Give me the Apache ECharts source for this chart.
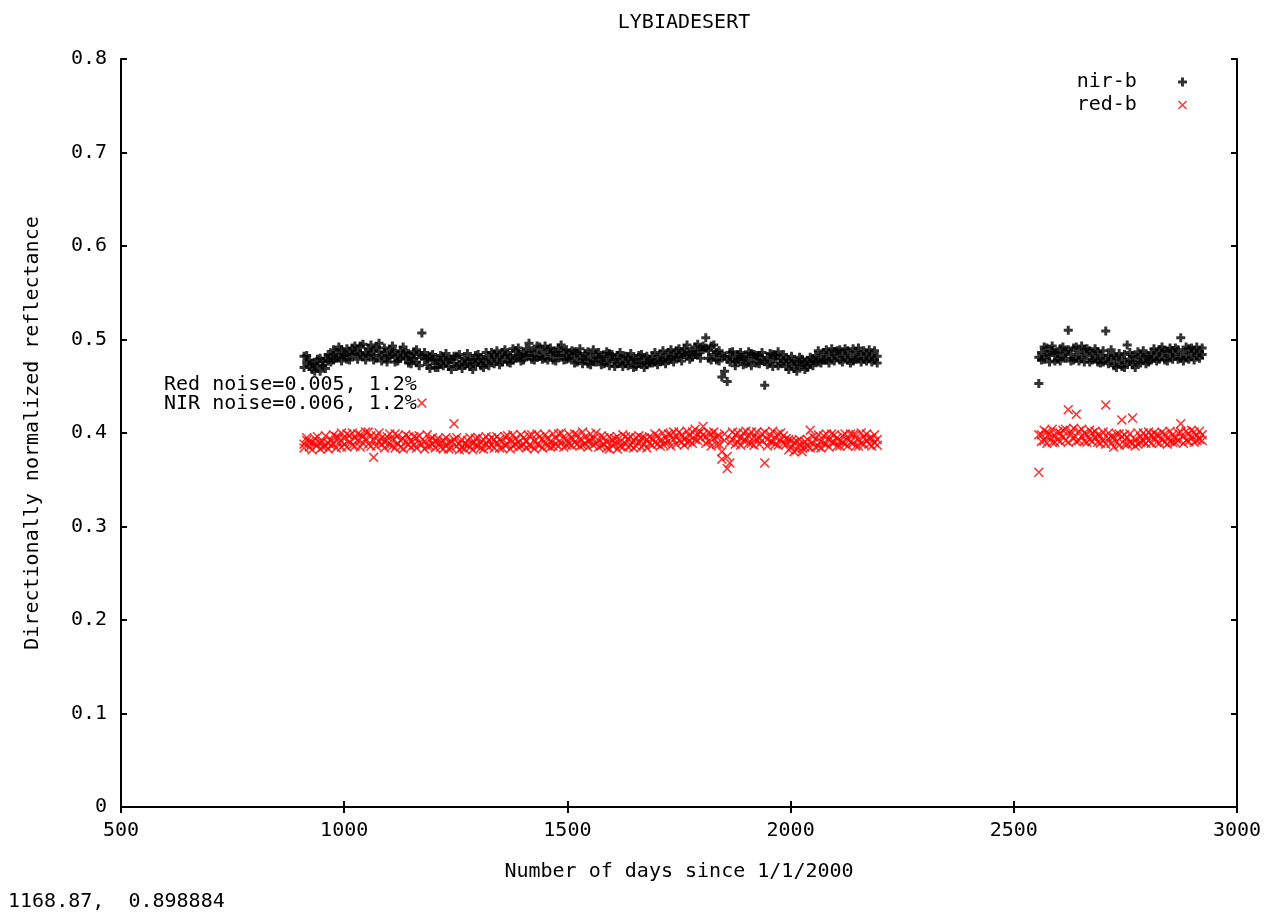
<!DOCTYPE html>
<html>
<head>
<meta charset="utf-8">
<script src="https://cdn.jsdelivr.net/npm/echarts@6/dist/echarts.min.js"></script>
<style>html,body{margin:0;padding:0;background:#fff}#c{width:1270px;height:915px}</style>
</head>
<body>
<div id="c"></div>
<script>
const xTicks = [500, 1000, 1500, 2000, 2500, 3000];
const yTicks = [0, 0.1, 0.2, 0.3, 0.4, 0.5, 0.6, 0.7, 0.8];

const days1 = [
910,916,922,928,934,940,946,952,958,964,
970,976,982,988,994,1000,1006,1012,1018,1024,
1030,1036,1042,1048,1054,1060,1066,1072,1078,1084,
1090,1096,1102,1108,1114,1120,1126,1132,1138,1144,
1150,1156,1162,1168,1174,1180,1186,1192,1198,1204,
1210,1216,1222,1228,1234,1240,1246,1252,1258,1264,
1270,1276,1282,1288,1294,1300,1306,1312,1318,1324,
1330,1336,1342,1348,1354,1360,1366,1372,1378,1384,
1390,1396,1402,1408,1414,1420,1426,1432,1438,1444,
1450,1456,1462,1468,1474,1480,1486,1492,1498,1504,
1510,1516,1522,1528,1534,1540,1546,1552,1558,1564,
1570,1576,1582,1588,1594,1600,1606,1612,1618,1624,
1630,1636,1642,1648,1654,1660,1666,1672,1678,1684,
1690,1696,1702,1708,1714,1720,1726,1732,1738,1744,
1750,1756,1762,1768,1774,1780,1786,1792,1798,1804,
1810,1816,1822,1828,1834,1840,1846,1852,1858,1864,
1870,1876,1882,1888,1894,1900,1906,1912,1918,1924,
1930,1936,1942,1948,1954,1960,1966,1972,1978,1984,
1990,1996,2002,2008,2014,2020,2026,2032,2038,2044,
2050,2056,2062,2068,2074,2080,2086,2092,2098,2104,
2110,2116,2122,2128,2134,2140,2146,2152,2158,2164,
2170,2176,2182,2188,2194
];
// first observation per day
const nir1 = [
0.482,0.476,0.471,0.468,0.474,0.479,0.466,0.472,0.480,0.477,
0.483,0.478,0.486,0.481,0.489,0.484,0.479,0.487,0.491,0.485,
0.488,0.493,0.482,0.486,0.490,0.484,0.478,0.492,0.487,0.483,
0.486,0.480,0.489,0.484,0.476,0.482,0.488,0.483,0.479,0.485,
0.481,0.487,0.476,0.484,0.507,0.479,0.473,0.482,0.477,0.470,
0.478,0.474,0.481,0.476,0.471,0.479,0.475,0.482,0.473,0.477,
0.480,0.474,0.471,0.478,0.483,0.476,0.472,0.479,0.475,0.481,
0.477,0.484,0.479,0.473,0.486,0.481,0.476,0.483,0.478,0.488,
0.482,0.477,0.485,0.490,0.483,0.479,0.487,0.481,0.492,0.486,
0.480,0.489,0.484,0.478,0.486,0.491,0.483,0.488,0.479,0.485,
0.481,0.487,0.476,0.483,0.479,0.485,0.474,0.481,0.477,0.484,
0.480,0.473,0.482,0.477,0.485,0.479,0.471,0.483,0.476,0.480,
0.474,0.481,0.477,0.470,0.479,0.483,0.475,0.480,0.473,0.478,
0.482,0.476,0.479,0.484,0.477,0.481,0.486,0.479,0.483,0.488,
0.481,0.486,0.490,0.483,0.479,0.487,0.492,0.484,0.489,0.489,
0.502,0.480,0.493,0.484,0.478,0.488,0.460,0.482,0.455,0.486,
0.481,0.476,0.484,0.479,0.473,0.482,0.477,0.485,0.480,0.475,
0.483,0.478,0.451,0.481,0.476,0.484,0.479,0.472,0.480,0.477,
0.471,0.478,0.474,0.469,0.476,0.481,0.473,0.468,0.477,0.474,
0.479,0.483,0.476,0.481,0.486,0.478,0.484,0.480,0.487,0.482,
0.478,0.485,0.481,0.488,0.483,0.477,0.486,0.480,0.484,0.479,
0.485,0.480,0.483,0.478,0.482
];
// second observation per day
const nir1b = [
0.470,0.483,0.478,0.474,0.466,0.472,0.480,0.476,0.469,0.484,
0.476,0.489,0.480,0.492,0.477,0.483,0.490,0.478,0.484,0.493,
0.479,0.484,0.495,0.478,0.483,0.494,0.488,0.480,0.496,0.477,
0.491,0.476,0.482,0.493,0.487,0.477,0.480,0.492,0.486,0.475,
0.474,0.480,0.489,0.472,0.483,0.486,0.480,0.469,0.484,0.478,
0.470,0.483,0.472,0.485,0.479,0.468,0.482,0.471,0.484,0.469,
0.473,0.485,0.479,0.468,0.474,0.484,0.480,0.470,0.486,0.472,
0.486,0.474,0.488,0.482,0.476,0.489,0.484,0.475,0.490,0.480,
0.491,0.484,0.478,0.483,0.496,0.488,0.478,0.493,0.482,0.479,
0.493,0.478,0.491,0.487,0.477,0.483,0.494,0.478,0.489,0.480,
0.488,0.475,0.485,0.490,0.474,0.479,0.487,0.473,0.489,0.476,
0.486,0.481,0.474,0.487,0.472,0.484,0.479,0.474,0.486,0.471,
0.482,0.472,0.485,0.479,0.471,0.475,0.484,0.470,0.482,0.475,
0.475,0.486,0.473,0.477,0.488,0.474,0.479,0.489,0.476,0.481,
0.490,0.477,0.484,0.494,0.487,0.481,0.484,0.495,0.480,0.493,
0.491,0.488,0.478,0.494,0.486,0.477,0.483,0.466,0.479,0.476,
0.487,0.472,0.479,0.486,0.481,0.474,0.487,0.472,0.484,0.483,
0.474,0.486,0.477,0.473,0.485,0.471,0.483,0.487,0.474,0.484,
0.480,0.468,0.482,0.477,0.466,0.472,0.479,0.476,0.470,0.481,
0.472,0.477,0.488,0.475,0.478,0.489,0.475,0.490,0.477,0.488,
0.489,0.476,0.490,0.478,0.475,0.490,0.479,0.491,0.476,0.488,
0.477,0.489,0.476,0.488,0.475
];
const red1 = [
0.388,0.392,0.385,0.390,0.394,0.387,0.383,0.391,0.386,0.389,
0.393,0.388,0.396,0.390,0.385,0.394,0.399,0.391,0.387,0.395,
0.392,0.398,0.389,0.394,0.401,0.386,0.374,0.397,0.391,0.395,
0.390,0.396,0.387,0.393,0.399,0.389,0.385,0.394,0.390,0.396,
0.392,0.387,0.395,0.389,0.432,0.391,0.386,0.393,0.388,0.384,
0.390,0.385,0.392,0.387,0.383,0.391,0.410,0.386,0.389,0.384,
0.388,0.392,0.385,0.389,0.394,0.386,0.390,0.383,0.388,0.392,
0.387,0.393,0.389,0.384,0.391,0.396,0.388,0.392,0.386,0.394,
0.390,0.386,0.395,0.391,0.387,0.398,0.392,0.388,0.396,0.393,
0.389,0.395,0.391,0.386,0.394,0.399,0.390,0.396,0.392,0.388,
0.395,0.390,0.398,0.393,0.387,0.396,0.391,0.399,0.394,0.389,
0.392,0.386,0.395,0.390,0.383,0.393,0.388,0.396,0.391,0.385,
0.389,0.394,0.387,0.392,0.386,0.390,0.395,0.388,0.393,0.389,
0.394,0.390,0.397,0.392,0.388,0.395,0.391,0.398,0.393,0.396,
0.392,0.398,0.394,0.390,0.397,0.401,0.393,0.399,0.395,0.407,
0.396,0.391,0.399,0.394,0.388,0.397,0.372,0.392,0.362,0.368,
0.393,0.398,0.390,0.395,0.400,0.392,0.397,0.389,0.396,0.401,
0.394,0.399,0.368,0.393,0.398,0.390,0.395,0.387,0.392,0.397,
0.388,0.393,0.385,0.390,0.382,0.388,0.384,0.391,0.386,0.403,
0.389,0.394,0.386,0.391,0.397,0.388,0.393,0.399,0.390,0.395,
0.391,0.397,0.388,0.394,0.390,0.398,0.386,0.393,0.389,0.396,
0.392,0.388,0.395,0.390,0.393
];
const red1b = [
0.384,0.395,0.391,0.382,0.388,0.396,0.390,0.385,0.397,0.383,
0.387,0.398,0.384,0.395,0.400,0.388,0.385,0.397,0.400,0.386,
0.399,0.385,0.396,0.401,0.388,0.397,0.392,0.386,0.400,0.388,
0.384,0.392,0.399,0.386,0.384,0.397,0.392,0.383,0.398,0.387,
0.385,0.396,0.384,0.397,0.388,0.383,0.398,0.386,0.395,0.391,
0.394,0.389,0.383,0.395,0.390,0.384,0.393,0.395,0.382,0.393,
0.383,0.387,0.395,0.382,0.387,0.395,0.384,0.393,0.396,0.385,
0.395,0.384,0.396,0.393,0.384,0.387,0.397,0.383,0.398,0.388,
0.385,0.398,0.388,0.384,0.397,0.386,0.383,0.399,0.387,0.384,
0.398,0.386,0.385,0.399,0.388,0.386,0.400,0.385,0.387,0.398,
0.387,0.399,0.388,0.386,0.401,0.389,0.385,0.392,0.387,0.400,
0.385,0.397,0.388,0.384,0.396,0.387,0.394,0.383,0.386,0.398,
0.396,0.385,0.396,0.384,0.395,0.397,0.385,0.395,0.384,0.396,
0.387,0.399,0.388,0.386,0.400,0.389,0.399,0.386,0.401,0.388,
0.401,0.390,0.387,0.402,0.391,0.389,0.404,0.392,0.401,0.398,
0.389,0.400,0.386,0.401,0.396,0.388,0.380,0.399,0.375,0.390,
0.401,0.388,0.400,0.387,0.392,0.402,0.389,0.401,0.387,0.393,
0.388,0.392,0.401,0.386,0.391,0.402,0.388,0.399,0.400,0.389,
0.394,0.382,0.392,0.380,0.391,0.393,0.380,0.385,0.393,0.384,
0.396,0.385,0.398,0.384,0.389,0.399,0.385,0.390,0.398,0.386,
0.386,0.390,0.399,0.386,0.399,0.389,0.398,0.386,0.400,0.388,
0.399,0.394,0.386,0.398,0.387
];
const days2 = [
2556,
2562,2568,2574,2580,2586,2592,2598,2604,2610,2616,
2622,2628,2634,2640,2646,2652,2658,2664,2670,2676,
2682,2688,2694,2700,2706,2712,2718,2724,2730,2736,
2742,2748,2754,2760,2766,2772,2778,2784,2790,2796,
2802,2808,2814,2820,2826,2832,2838,2844,2850,2856,
2862,2868,2874,2880,2886,2892,2898,2904,2910,2916,
2922
];
const nir2 = [
0.453,
0.486,0.479,0.491,0.483,0.488,0.477,0.485,0.490,0.482,0.487,
0.510,0.484,0.478,0.492,0.486,0.481,0.489,0.483,0.476,0.485,
0.480,0.487,0.482,0.476,0.509,0.483,0.478,0.472,0.481,0.475,
0.479,0.470,0.494,0.477,0.473,0.481,0.476,0.484,0.479,0.474,
0.482,0.486,0.480,0.485,0.489,0.483,0.478,0.487,0.482,0.488,
0.484,0.479,0.502,0.486,0.481,0.490,0.485,0.488,0.483,0.487,
0.484
];
const nir2b = [
0.481,
0.478,0.492,0.484,0.476,0.493,0.486,0.479,0.477,0.492,0.480,
0.489,0.477,0.491,0.480,0.477,0.493,0.476,0.490,0.488,0.478,
0.490,0.476,0.475,0.488,0.480,0.474,0.489,0.483,0.470,0.485,
0.471,0.484,0.476,0.486,0.482,0.470,0.487,0.475,0.488,0.482,
0.476,0.478,0.490,0.477,0.479,0.492,0.488,0.477,0.491,0.479,
0.491,0.489,0.480,0.477,0.492,0.479,0.491,0.478,0.492,0.480,
0.491
];
const red2 = [
0.358,
0.398,0.392,0.401,0.395,0.390,0.397,0.393,0.400,0.396,0.404,
0.425,0.399,0.394,0.420,0.402,0.396,0.391,0.398,0.393,0.400,
0.395,0.390,0.397,0.392,0.430,0.394,0.389,0.396,0.391,0.399,
0.414,0.388,0.395,0.390,0.416,0.393,0.388,0.396,0.391,0.397,
0.392,0.398,0.394,0.390,0.397,0.393,0.399,0.395,0.391,0.398,
0.394,0.400,0.410,0.396,0.392,0.399,0.395,0.401,0.397,0.393,
0.398
];
const red2b = [
0.398,
0.391,0.403,0.389,0.399,0.404,0.390,0.401,0.391,0.403,0.392,
0.390,0.402,0.405,0.391,0.392,0.404,0.400,0.390,0.403,0.391,
0.402,0.398,0.389,0.401,0.388,0.400,0.396,0.385,0.399,0.387,
0.396,0.398,0.388,0.399,0.389,0.386,0.400,0.390,0.400,0.389,
0.401,0.389,0.400,0.398,0.389,0.401,0.390,0.388,0.402,0.390,
0.390,0.392,0.401,0.389,0.402,0.391,0.403,0.390,0.392,0.402,
0.392
];

const FONT = 'DejaVu Sans Mono';
const zip = (xs, ys) => xs.map((x, i) => [x, ys[i]]);
const PLUS = 'path://M3,0H6V3H9V6H6V9H3V6H0V3H3Z';
const CROSS = 'path://M1.1,0L10,8.9L8.9,10L0,1.1Z M8.9,0L10,1.1L1.1,10L0,8.9Z';

const chart = echarts.init(document.getElementById('c'));
const axisCommon = {
  axisLine: {show: true, lineStyle: {color: '#000', width: 2}},
  axisTick: {show: true, inside: true, length: 6, lineStyle: {color: '#000', width: 2}},
  splitLine: {show: false}
};
chart.setOption({
  animation: false,
  backgroundColor: '#fff',
  title: {
    text: 'LYBIADESERT', left: 679, top: 8, textAlign: 'center',
    textStyle: {fontFamily: FONT, fontSize: 20, fontWeight: 'normal', color: '#000'}
  },
  legend: {
    orient: 'vertical', right: 78, top: 67, align: 'right', itemGap: 3,
    itemWidth: 9, itemHeight: 9,
    formatter: n => n + '   ',
    textStyle: {fontFamily: FONT, fontSize: 20, color: '#000'},
    data: ['nir-b', 'red-b']
  },
  grid: {left: 121, right: 33, top: 59, bottom: 108},
  xAxis: [
    Object.assign({
      type: 'value', min: xTicks[0], max: xTicks[xTicks.length - 1], interval: 500,
      position: 'bottom',
      name: 'Number of days since 1/1/2000', nameLocation: 'middle', nameGap: 55,
      nameTextStyle: {fontFamily: FONT, fontSize: 20, color: '#000'},
      axisLabel: {margin: 14, fontFamily: FONT, fontSize: 20, color: '#000',
        formatter: v => String(v)}
    }, axisCommon),
    Object.assign({
      type: 'value', min: xTicks[0], max: xTicks[xTicks.length - 1], interval: 500,
      position: 'top', axisLabel: {show: false}
    }, axisCommon)
  ],
  yAxis: [
    Object.assign({
      type: 'value', min: yTicks[0], max: yTicks[yTicks.length - 1], interval: 0.1,
      position: 'left',
      name: 'Directionally normalized reflectance', nameLocation: 'middle', nameGap: 78,
      nameRotate: 90,
      nameTextStyle: {fontFamily: FONT, fontSize: 20, color: '#000'},
      axisLabel: {margin: 14, fontFamily: FONT, fontSize: 20, color: '#000',
        formatter: v => (v === 0 ? '0' : v.toFixed(1))}
    }, axisCommon),
    Object.assign({
      type: 'value', min: yTicks[0], max: yTicks[yTicks.length - 1], interval: 0.1,
      position: 'right', axisLabel: {show: false}
    }, axisCommon)
  ],
  graphic: [
    {type: 'text', left: 164, top: 375, style: {
      text: 'Red noise=0.005, 1.2%\nNIR noise=0.006, 1.2%',
      font: '20px "DejaVu Sans Mono"', lineHeight: 19, fill: '#000'}},
    {type: 'text', left: 8, top: 892, style: {
      text: '1168.87,  0.898884', font: '20px "DejaVu Sans Mono"', fill: '#000'}}
  ],
  series: [
    {name: 'nir-b', type: 'scatter', symbol: PLUS, symbolSize: 9,
     itemStyle: {color: '#000'},
     data: zip(days1, nir1).concat(zip(days1, nir1b), zip(days2, nir2), zip(days2, nir2b))},
    {name: 'red-b', type: 'scatter', symbol: CROSS, symbolSize: 10,
     itemStyle: {color: '#ff0000'},
     data: zip(days1, red1).concat(zip(days1, red1b), zip(days2, red2), zip(days2, red2b))}
  ]
});
</script>
</body>
</html>
